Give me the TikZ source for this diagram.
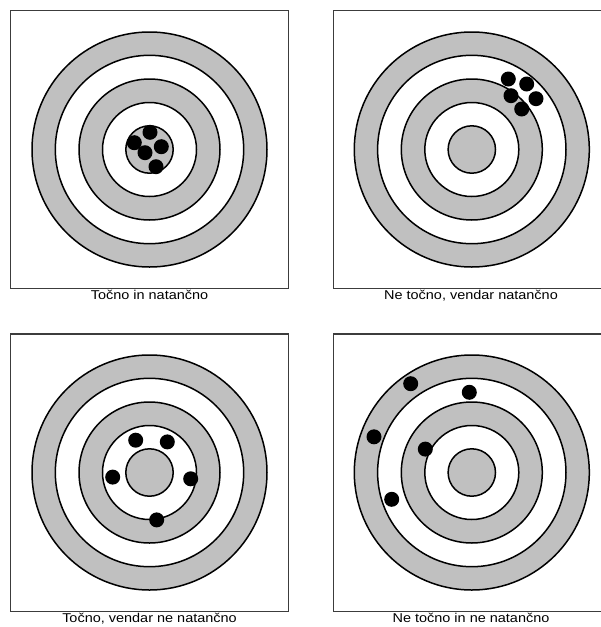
\documentclass[tikz,border=0pt]{standalone}
\usepackage{fontspec}
\setmainfont{Liberation Sans}
\usepackage{graphicx}
\definecolor{ringgray}{RGB}{192,192,192}
\definecolor{boxgray}{RGB}{60,60,60}
\tikzset{
  ring/.style={draw=black, line width=1.5pt},
  hit/.style={fill=black},
  frame/.style={draw=boxgray, line width=1.2pt},
  caption/.style={anchor=base, inner sep=0pt, font=\fontsize{12.8}{15}\selectfont},
  target/.pic={
    \draw[ring, fill=ringgray] (0,0) circle[radius=117.5pt];
    \draw[ring, fill=white]    (0,0) circle[radius=94.2pt];
    \draw[ring, fill=ringgray] (0,0) circle[radius=70.5pt];
    \draw[ring, fill=white]    (0,0) circle[radius=47pt];
    \draw[ring, fill=ringgray] (0,0) circle[radius=23.7pt];
  }
}
\begin{document}
\begin{tikzpicture}[x=1pt,y=-1pt]
\useasboundingbox[fill=white] (0,0) rectangle (601,627);

% frames
\draw[frame] (10.7,10.7) rectangle (288.7,288.3);
\draw[frame] (601,10.7) -- (333.3,10.7) -- (333.3,288.3) -- (601,288.3);
\draw[frame] (10.7,334) rectangle (288.7,611.3);
\draw[frame] (601,334) -- (333.3,334) -- (333.3,611.3) -- (601,611.3);

% targets
\pic at (149.5,149.5) {target};
\pic at (471.8,149.5) {target};
\pic at (149.5,472.5) {target};
\pic at (471.8,472.5) {target};

% panel 1 hits
\fill[hit] (134.3,142.7) circle[radius=7.5pt];
\fill[hit] (150,132.3) circle[radius=7.5pt];
\fill[hit] (161.3,146.7) circle[radius=7.5pt];
\fill[hit] (145,152.7) circle[radius=7.5pt];
\fill[hit] (156,166.7) circle[radius=7.5pt];

% panel 2 hits
\fill[hit] (508.3,79) circle[radius=7.5pt];
\fill[hit] (526.7,84) circle[radius=7.5pt];
\fill[hit] (511,95.7) circle[radius=7.5pt];
\fill[hit] (536,98.7) circle[radius=7.5pt];
\fill[hit] (521.7,109) circle[radius=7.5pt];

% panel 3 hits
\fill[hit] (135.7,440.2) circle[radius=7.5pt];
\fill[hit] (167.3,441.9) circle[radius=7.5pt];
\fill[hit] (112.7,477.1) circle[radius=7.5pt];
\fill[hit] (190.7,478.8) circle[radius=7.5pt];
\fill[hit] (156.7,519.9) circle[radius=7.5pt];

% panel 4 hits
\fill[hit] (410.7,383.7) circle[radius=7.5pt];
\fill[hit] (469.3,392.3) circle[radius=7.5pt];
\fill[hit] (374,436.8) circle[radius=7.5pt];
\fill[hit] (425.3,449.1) circle[radius=7.5pt];
\fill[hit] (391.7,499.3) circle[radius=7.5pt];

% captions
\node[caption] (cap1) at (149.5,299.5) {\scalebox{1.13}[1]{Točno in natančno}};
\node[caption] (cap2) at (471,299.5) {\scalebox{1.13}[1]{Ne točno, vendar natančno}};
\node[caption] (cap3) at (149.5,622.5) {\scalebox{1.13}[1]{Točno, vendar ne natančno}};
\node[caption] (cap4) at (471,622.5) {\scalebox{1.13}[1]{Ne točno in ne natančno}};
\end{tikzpicture}
\end{document}
